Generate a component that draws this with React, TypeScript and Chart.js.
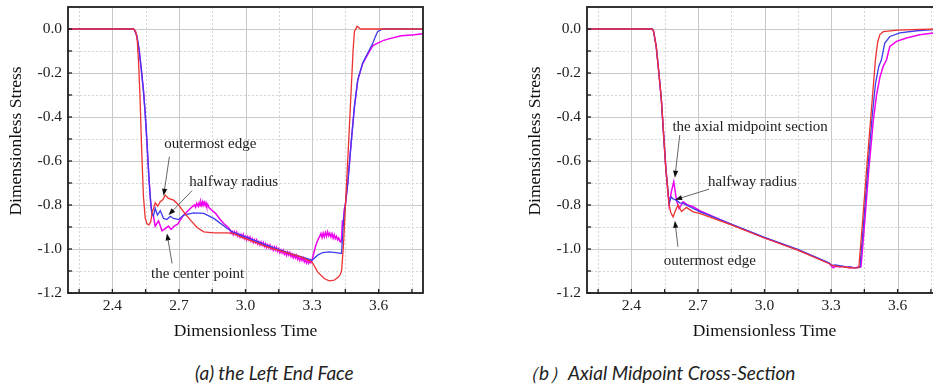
import React, { useEffect, useRef } from "react";
import { Chart, registerables } from "chart.js";

Chart.register(...registerables);

// ---------- axes ----------
const X_MIN = 2.2;
const X_MAX = 3.8;
const Y_MIN = -1.2;
const Y_MAX = 0.1;
const X_MAJOR = [2.4, 2.7, 3.0, 3.3, 3.6];
const X_MAJOR_LABELS = ["2.4", "2.7", "3.0", "3.3", "3.6"];
const X_MINOR = [2.25, 2.55, 2.85, 3.15, 3.45, 3.75];
const Y_MAJOR = [0, -0.2, -0.4, -0.6, -0.8, -1.0, -1.2];
const Y_MAJOR_LABELS = ["0.0", "-0.2", "-0.4", "-0.6", "-0.8", "-1.0", "-1.2"];
const Y_MINOR = [-0.1, -0.3, -0.5, -0.7, -0.9, -1.1];

const X_TITLE = "Dimensionless Time";
const Y_TITLE = "Dimensionless Stress";
const CAPTION_A = "(a) the Left End Face";
const CAPTION_B = "（b）Axial Midpoint Cross-Section";

// ---------- (a) left end face ----------
const A_EDGE_T = [2.2, 2.495, 2.505, 2.512, 2.518, 2.525, 2.532, 2.54, 2.548, 2.556, 2.565, 2.573, 2.58, 2.586, 2.593, 2.604, 2.616, 2.628, 2.638, 2.653, 2.676, 2.699, 2.721, 2.752, 2.782, 2.812, 2.857, 2.918, 2.948, 2.978, 3.038, 3.098, 3.174, 3.249, 3.3, 3.325, 3.355, 3.377, 3.4, 3.418, 3.425, 3.433, 3.442, 3.457, 3.472, 3.485, 3.491, 3.503, 3.518, 3.8];
const A_EDGE_S = [0, 0, -0.01, -0.05, -0.15, -0.32, -0.55, -0.76, -0.86, -0.885, -0.89, -0.875, -0.83, -0.815, -0.79, -0.805, -0.785, -0.775, -0.755, -0.77, -0.778, -0.8, -0.831, -0.869, -0.902, -0.922, -0.927, -0.927, -0.93, -0.945, -0.968, -0.99, -1.013, -1.036, -1.059, -1.104, -1.134, -1.145, -1.142, -1.127, -1.12, -1.1, -0.975, -0.672, -0.368, -0.094, -0.011, 0.012, 0, 0];

const A_HALF_T = [2.2, 2.495, 2.5, 2.51, 2.52, 2.53, 2.54, 2.547, 2.555, 2.565, 2.572, 2.578, 2.585, 2.593, 2.603, 2.616, 2.631, 2.646, 2.661, 2.676, 2.699, 2.721, 2.767, 2.812, 2.857, 2.918, 2.948, 3.0, 3.1, 3.2, 3.3, 3.325, 3.348, 3.377, 3.407, 3.43, 3.433, 3.442, 3.461, 3.476, 3.491, 3.506, 3.528, 3.551, 3.574, 3.585, 3.596, 3.619, 3.8];
const A_HALF_S = [0, 0, -0.005, -0.03, -0.09, -0.18, -0.28, -0.37, -0.5, -0.68, -0.78, -0.84, -0.85, -0.815, -0.846, -0.826, -0.861, -0.866, -0.851, -0.861, -0.866, -0.846, -0.836, -0.838, -0.861, -0.907, -0.926, -0.945, -0.985, -1.02, -1.051, -1.028, -1.016, -1.013, -1.016, -1.02, -1.02, -0.869, -0.7, -0.519, -0.353, -0.231, -0.155, -0.109, -0.064, -0.035, -0.011, 0, 0];

const A_CENTER_T = [2.2, 2.495, 2.5, 2.51, 2.52, 2.53, 2.54, 2.547, 2.555, 2.565, 2.572, 2.578, 2.585, 2.593, 2.608, 2.624, 2.638, 2.653, 2.664, 2.679, 2.694, 2.721, 2.751, 2.77, 2.775, 2.78, 2.787, 2.791, 2.795, 2.799, 2.803, 2.807, 2.81, 2.814, 2.818, 2.822, 2.825, 2.83, 2.835, 2.85, 2.865, 2.885, 2.903, 2.92,
  2.93, 2.935, 2.94, 2.945, 2.95, 2.955, 2.96, 2.965, 2.97, 2.975, 2.98, 2.985, 2.99, 2.995, 3.0, 3.005, 3.01, 3.015, 3.02, 3.025, 3.03, 3.035, 3.04, 3.045, 3.05, 3.055, 3.06, 3.065, 3.07, 3.075, 3.08, 3.085, 3.09, 3.095, 3.1, 3.105, 3.11, 3.115, 3.12, 3.125, 3.13, 3.135, 3.14, 3.145, 3.15, 3.155, 3.16, 3.165, 3.17, 3.175, 3.18, 3.185, 3.19, 3.195, 3.2, 3.205, 3.21, 3.215, 3.22, 3.225, 3.23, 3.235, 3.24, 3.245, 3.25, 3.255, 3.26, 3.265, 3.27, 3.275, 3.28, 3.285, 3.29, 3.295, 3.3,
  3.305, 3.31, 3.315, 3.32, 3.325, 3.33, 3.335, 3.34, 3.345, 3.35, 3.355, 3.36, 3.365, 3.37, 3.375, 3.38, 3.385, 3.39, 3.395, 3.4, 3.405, 3.41, 3.415, 3.42, 3.425, 3.43, 3.433, 3.437, 3.44, 3.445, 3.45, 3.461, 3.476, 3.491, 3.506, 3.528, 3.551, 3.574, 3.596, 3.62, 3.641, 3.702, 3.75, 3.8];
const A_CENTER_S = [0, 0, -0.005, -0.03, -0.09, -0.18, -0.28, -0.37, -0.5, -0.68, -0.78, -0.84, -0.85, -0.896, -0.872, -0.917, -0.907, -0.896, -0.911, -0.896, -0.887, -0.846, -0.816, -0.8, -0.81, -0.792, -0.806, -0.79, -0.803, -0.787, -0.801, -0.786, -0.8, -0.788, -0.802, -0.79, -0.804, -0.798, -0.812, -0.825, -0.838, -0.865, -0.885, -0.9,
  -0.912, -0.928, -0.92, -0.935, -0.921, -0.934, -0.923, -0.941, -0.931, -0.946, -0.934, -0.947, -0.934, -0.953, -0.943, -0.958, -0.944, -0.958, -0.946, -0.964, -0.953, -0.97, -0.958, -0.971, -0.959, -0.977, -0.967, -0.982, -0.968, -0.982, -0.97, -0.988, -0.976, -0.993, -0.981, -0.994, -0.982, -1.0, -0.99, -1.005, -0.991, -1.005, -0.993, -1.011, -1.0, -1.017, -1.005, -1.018, -1.006, -1.024, -1.014, -1.029, -1.014, -1.028, -1.016, -1.034, -1.023, -1.04, -1.028, -1.041, -1.029, -1.047, -1.037, -1.052, -1.038, -1.052, -1.04, -1.058, -1.047, -1.064, -1.052, -1.065, -1.054, -1.062, -1.05,
  -1.03, -1.01, -0.99, -0.975, -0.962, -0.95, -0.942, -0.93, -0.948, -0.928, -0.945, -0.925, -0.942, -0.922, -0.94, -0.928, -0.945, -0.93, -0.95, -0.935, -0.953, -0.942, -0.958, -0.95, -0.965, -0.968, -0.95, -0.87, -0.895, -0.82, -0.8, -0.7, -0.519, -0.353, -0.231, -0.158, -0.115, -0.075, -0.064, -0.053, -0.046, -0.031, -0.027, -0.022];

// ---------- (b) axial midpoint cross-section ----------
const B_EDGE_T = [2.2, 2.494, 2.5, 2.512, 2.524, 2.535, 2.555, 2.57, 2.578, 2.588, 2.597, 2.61, 2.626, 2.648, 2.678, 2.708, 2.85, 3.0, 3.15, 3.29, 3.31, 3.34, 3.37, 3.4, 3.425, 3.44, 3.46, 3.48, 3.5, 3.51, 3.52, 3.535, 3.6, 3.7, 3.8];
const B_EDGE_S = [0, 0, -0.01, -0.08, -0.2, -0.32, -0.63, -0.8, -0.835, -0.854, -0.83, -0.8, -0.83, -0.811, -0.831, -0.838, -0.89, -0.95, -1.005, -1.066, -1.076, -1.08, -1.083, -1.086, -1.085, -0.9, -0.64, -0.39, -0.14, -0.06, -0.025, -0.012, -0.005, -0.002, 0];

const B_HALF_T = [2.2, 2.494, 2.5, 2.512, 2.524, 2.535, 2.555, 2.57, 2.58, 2.588, 2.595, 2.605, 2.618, 2.633, 2.663, 2.708, 2.85, 3.0, 3.15, 3.29, 3.305, 3.32, 3.35, 3.37, 3.385, 3.4, 3.42, 3.43, 3.445, 3.465, 3.485, 3.5, 3.515, 3.527, 3.542, 3.565, 3.61, 3.686, 3.76, 3.8];
const B_HALF_S = [0, 0, -0.01, -0.08, -0.2, -0.32, -0.63, -0.79, -0.763, -0.772, -0.775, -0.78, -0.79, -0.793, -0.808, -0.83, -0.887, -0.947, -1.002, -1.063, -1.075, -1.072, -1.078, -1.082, -1.08, -1.085, -1.085, -1.083, -0.9, -0.64, -0.4, -0.25, -0.17, -0.14, -0.064, -0.034, -0.018, -0.008, -0.003, -0.002];

const B_CENTER_T = [2.2, 2.494, 2.5, 2.512, 2.524, 2.535, 2.555, 2.57, 2.58, 2.591, 2.603, 2.615, 2.633, 2.655, 2.678, 2.708, 2.85, 3.0, 3.15, 3.29, 3.3, 3.31, 3.3225, 3.34, 3.3525, 3.38, 3.41, 3.435, 3.45, 3.47, 3.49, 3.505, 3.52, 3.535, 3.55, 3.565, 3.595, 3.64, 3.7, 3.76, 3.8];
const B_CENTER_S = [0, 0, -0.01, -0.08, -0.2, -0.32, -0.63, -0.8, -0.74, -0.694, -0.778, -0.816, -0.785, -0.8, -0.808, -0.826, -0.888, -0.949, -1.004, -1.064, -1.075, -1.085, -1.078, -1.082, -1.078, -1.085, -1.085, -1.08, -0.9, -0.64, -0.42, -0.3, -0.22, -0.17, -0.14, -0.079, -0.056, -0.041, -0.026, -0.018, -0.015];

// ---------- annotations (data coordinates) ----------
const A_NOTES = [
  { text: "outermost edge", tx: 2.634, ty: -0.524, x1: 2.657, y1: -0.58, x2: 2.631, y2: -0.758 },
  { text: "halfway radius", tx: 2.747, ty: -0.694, x1: 2.759, y1: -0.735, x2: 2.653, y2: -0.846 },
  { text: "the center point", tx: 2.574, ty: -1.112, x1: 2.669, y1: -1.066, x2: 2.646, y2: -0.929 },
];
const B_NOTES = [
  { text: "the axial midpoint section", tx: 2.585, ty: -0.447, x1: 2.618, y1: -0.482, x2: 2.596, y2: -0.676 },
  { text: "halfway radius", tx: 2.7455, ty: -0.694, x1: 2.75, y1: -0.728, x2: 2.597, y2: -0.776 },
  { text: "outermost edge", tx: 2.546, ty: -1.056, x1: 2.61, y1: -0.99, x2: 2.596, y2: -0.872 },
];

const RED = "rgb(238,50,50)";
const BLUE = "rgb(60,60,238)";
const MAGENTA = "rgb(238,0,238)";
const SERIF = "'Liberation Serif', 'Times New Roman', serif";

Chart.defaults.font.family = SERIF;

function pts(t: number[], s: number[]) {
  return t.map((v, i) => ({ x: v, y: s[i] }));
}

function near(a: number, b: number) {
  return Math.abs(a - b) < 1e-6;
}

type Cfg = {
  width: number;
  height: number;
  yAxisWidth: number;
  padRight: number;
  plotTop: number;
  plotBottom: number;
  yTitleX: number;
  yTitleY: number;
  xTitleY: number;
  notes: typeof A_NOTES;
  edge: [number[], number[]];
  half: [number[], number[]];
  center: [number[], number[]];
};

function makeDecor(cfg: Cfg) {
  return {
    id: "decor",
    beforeDatasetsDraw(chart: any) {
      const { ctx, chartArea: a, scales } = chart;
      const x = scales.x;
      const y = scales.y;
      ctx.save();
      ctx.lineWidth = 1;
      ctx.strokeStyle = "#d4d4d4";
      ctx.setLineDash([2, 2]);
      X_MINOR.forEach((v) => {
        const p = Math.round(x.getPixelForValue(v)) + 0.5;
        ctx.beginPath();
        ctx.moveTo(p, a.top);
        ctx.lineTo(p, a.bottom);
        ctx.stroke();
      });
      Y_MINOR.forEach((v) => {
        const p = Math.round(y.getPixelForValue(v)) + 0.5;
        ctx.beginPath();
        ctx.moveTo(a.left, p);
        ctx.lineTo(a.right, p);
        ctx.stroke();
      });
      ctx.setLineDash([]);
      ctx.strokeStyle = "#c8c8c8";
      X_MAJOR.forEach((v) => {
        const p = Math.round(x.getPixelForValue(v)) + 0.5;
        ctx.beginPath();
        ctx.moveTo(p, a.top);
        ctx.lineTo(p, a.bottom);
        ctx.stroke();
      });
      Y_MAJOR.forEach((v) => {
        const p = Math.round(y.getPixelForValue(v)) + 0.5;
        ctx.beginPath();
        ctx.moveTo(a.left, p);
        ctx.lineTo(a.right, p);
        ctx.stroke();
      });
      ctx.restore();
    },
    afterDatasetsDraw(chart: any) {
      const { ctx, chartArea: a, scales } = chart;
      const x = scales.x;
      const y = scales.y;
      ctx.save();
      // frame
      ctx.strokeStyle = "#1e1e1e";
      ctx.lineWidth = 1.8;
      ctx.strokeRect(a.left, a.top, a.right - a.left, a.bottom - a.top);
      // inward ticks
      ctx.lineWidth = 1.3;
      [...X_MINOR, ...X_MAJOR].forEach((v) => {
        const p = x.getPixelForValue(v);
        ctx.beginPath();
        ctx.moveTo(p, a.bottom);
        ctx.lineTo(p, a.bottom - 4);
        ctx.stroke();
      });
      [...Y_MINOR, ...Y_MAJOR].forEach((v) => {
        const p = y.getPixelForValue(v);
        ctx.beginPath();
        ctx.moveTo(a.left, p);
        ctx.lineTo(a.left + 4, p);
        ctx.stroke();
      });
      // annotations
      ctx.font = `15px ${SERIF}`;
      ctx.textAlign = "left";
      ctx.textBaseline = "middle";
      cfg.notes.forEach((n) => {
        ctx.fillStyle = "#222";
        ctx.fillText(n.text, x.getPixelForValue(n.tx), y.getPixelForValue(n.ty));
        const px1 = x.getPixelForValue(n.x1);
        const py1 = y.getPixelForValue(n.y1);
        const px2 = x.getPixelForValue(n.x2);
        const py2 = y.getPixelForValue(n.y2);
        const ang = Math.atan2(py2 - py1, px2 - px1);
        const hl = 7;
        const hw = 2.6;
        ctx.strokeStyle = "#666";
        ctx.lineWidth = 1;
        ctx.beginPath();
        ctx.moveTo(px1, py1);
        ctx.lineTo(px2 - Math.cos(ang) * hl * 0.8, py2 - Math.sin(ang) * hl * 0.8);
        ctx.stroke();
        ctx.fillStyle = "#111";
        ctx.beginPath();
        ctx.moveTo(px2, py2);
        ctx.lineTo(px2 - Math.cos(ang) * hl - Math.sin(ang) * hw, py2 - Math.sin(ang) * hl + Math.cos(ang) * hw);
        ctx.lineTo(px2 - Math.cos(ang) * hl + Math.sin(ang) * hw, py2 - Math.sin(ang) * hl - Math.cos(ang) * hw);
        ctx.closePath();
        ctx.fill();
      });
      // axis titles
      ctx.fillStyle = "#111";
      ctx.font = `17.5px ${SERIF}`;
      ctx.textAlign = "center";
      ctx.textBaseline = "middle";
      ctx.fillText(X_TITLE, (a.left + a.right) / 2, cfg.xTitleY);
      ctx.translate(cfg.yTitleX, cfg.yTitleY);
      ctx.rotate(-Math.PI / 2);
      ctx.fillText(Y_TITLE, 0, 0);
      ctx.restore();
    },
  };
}

function ChartPanel({ cfg, left }: { cfg: Cfg; left: number }) {
  const ref = useRef<HTMLCanvasElement | null>(null);
  useEffect(() => {
    if (!ref.current) return;
    const chart = new Chart(ref.current, {
      type: "line",
      data: {
        datasets: [
          { label: "outermost edge", data: pts(cfg.edge[0], cfg.edge[1]), borderColor: RED, borderWidth: 1.3, pointRadius: 0, tension: 0, order: 1 },
          { label: "halfway radius", data: pts(cfg.half[0], cfg.half[1]), borderColor: BLUE, borderWidth: 1.3, pointRadius: 0, tension: 0, order: 2 },
          { label: "the center point", data: pts(cfg.center[0], cfg.center[1]), borderColor: MAGENTA, borderWidth: 1.5, pointRadius: 0, tension: 0, order: 3 },
        ],
      },
      options: {
        animation: false,
        responsive: false,
        events: [],
        layout: { padding: { left: 0, top: cfg.plotTop, right: cfg.padRight, bottom: 0 } },
        plugins: { legend: { display: false }, tooltip: { enabled: false } },
        scales: {
          x: {
            type: "linear",
            min: X_MIN,
            max: X_MAX,
            afterFit: (s: any) => {
              s.height = cfg.height - cfg.plotBottom;
              s.paddingLeft = 0;
              s.paddingRight = 0;
              s.paddingTop = 0;
              s.paddingBottom = 0;
            },
            afterBuildTicks: (s: any) => {
              s.ticks = X_MAJOR.map((v) => ({ value: v }));
            },
            ticks: {
              autoSkip: false,
              maxRotation: 0,
              padding: 4,
              color: "#222",
              font: { family: SERIF, size: 15.5 },
              callback: (v: any) => {
                const i = X_MAJOR.findIndex((m) => near(m, Number(v)));
                return i >= 0 ? X_MAJOR_LABELS[i] : "";
              },
            },
            grid: { display: false, drawTicks: false },
            border: { display: false },
          },
          y: {
            type: "linear",
            min: Y_MIN,
            max: Y_MAX,
            afterFit: (s: any) => {
              s.width = cfg.yAxisWidth;
              s.paddingTop = 0;
              s.paddingBottom = 0;
              s.paddingLeft = 0;
              s.paddingRight = 0;
            },
            afterBuildTicks: (s: any) => {
              s.ticks = Y_MAJOR.map((v) => ({ value: v }));
            },
            ticks: {
              autoSkip: false,
              padding: 6,
              color: "#222",
              font: { family: SERIF, size: 15.5 },
              callback: (v: any) => {
                const i = Y_MAJOR.findIndex((m) => near(m, Number(v)));
                return i >= 0 ? Y_MAJOR_LABELS[i] : "";
              },
            },
            grid: { display: false, drawTicks: false },
            border: { display: false },
          },
        },
      },
      plugins: [makeDecor(cfg)],
    } as any);
    return () => chart.destroy();
  }, [cfg]);
  return (
    <canvas
      ref={ref}
      width={cfg.width}
      height={cfg.height}
      style={{ position: "absolute", left, top: 0, width: cfg.width, height: cfg.height }}
    />
  );
}

const CFG_A: Cfg = {
  width: 450,
  height: 345,
  yAxisWidth: 68,
  padRight: 450 - 423,
  plotTop: 7,
  plotBottom: 293,
  yTitleX: 16,
  yTitleY: 141,
  xTitleY: 331,
  notes: A_NOTES,
  edge: [A_EDGE_T, A_EDGE_S],
  half: [A_HALF_T, A_HALF_S],
  center: [A_CENTER_T, A_CENTER_S],
};

const CFG_B: Cfg = {
  width: 490,
  height: 345,
  yAxisWidth: 117,
  padRight: 490 - 472,
  plotTop: 7,
  plotBottom: 293,
  yTitleX: 65,
  yTitleY: 141,
  xTitleY: 331,
  notes: B_NOTES,
  edge: [B_EDGE_T, B_EDGE_S],
  half: [B_HALF_T, B_HALF_S],
  center: [B_CENTER_T, B_CENTER_S],
};

const captionStyle: React.CSSProperties = {
  position: "absolute",
  top: 361,
  fontFamily: "Lato, 'Noto Sans', sans-serif",
  fontStyle: "italic",
  fontSize: 19,
  lineHeight: "24px",
  color: "#222",
  whiteSpace: "nowrap",
};

export default function App() {
  return (
    <div
      style={{
        position: "fixed",
        left: 0,
        top: 0,
        width: 933,
        height: 388,
        overflow: "hidden",
        background: "#fff",
      }}
    >
      <ChartPanel cfg={CFG_A} left={0} />
      <ChartPanel cfg={CFG_B} left={470} />
      <div style={{ ...captionStyle, left: 195 }}>{CAPTION_A}</div>
      <div style={{ ...captionStyle, left: 520 }}>{CAPTION_B}</div>
    </div>
  );
}
